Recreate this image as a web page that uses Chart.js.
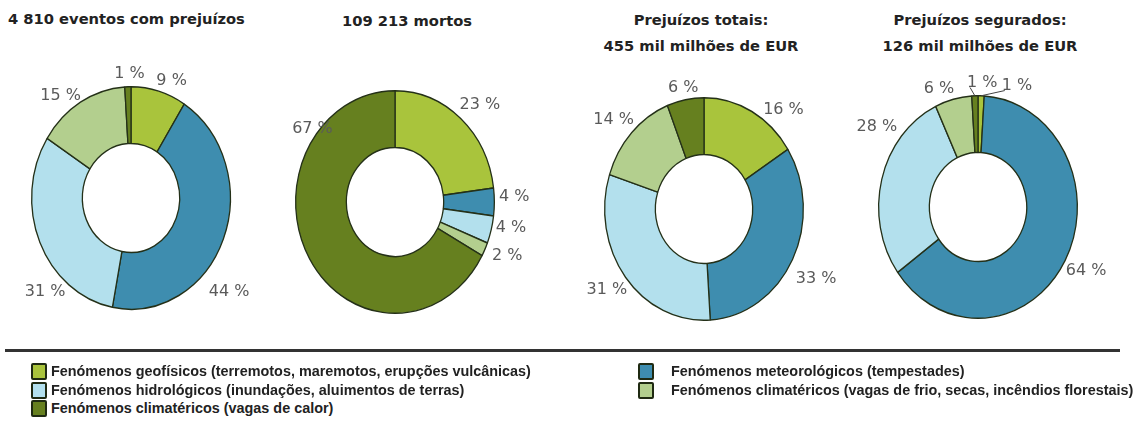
<!DOCTYPE html>
<html>
<head>
<meta charset="utf-8">
<script src="https://cdn.jsdelivr.net/npm/chart.js@4.4.0/dist/chart.umd.min.js"></script>
<style>
  body { margin: 0; width: 1142px; height: 421px; overflow: hidden; background: #fff; position: relative; font-family: "DejaVu Sans", Verdana, sans-serif; }
  .box { position: absolute; width: 320px; height: 340px; }
  .title { position: absolute; font-weight: bold; font-size: 14.7px; color: #222; line-height: 26px; white-space: nowrap; }
  .rule { position: absolute; left: 5px; width: 1115px; top: 349px; height: 3px; background: #333; }
  .leg { position: absolute; font-family: "Liberation Sans", Arial, sans-serif; font-weight: bold; font-size: 14.4px; color: #222; white-space: nowrap; line-height: 16px; }
  .leg i { position: absolute; width: 12px; height: 13px; border: 2px solid #1f2a12; border-radius: 2px; }
</style>
</head>
<body>
<div class="title" style="left:8px; top:6px;">4 810 eventos com prejuízos</div>
<div class="title" style="left:307px; width:200px; text-align:center; top:8px;">109 213 mortos</div>
<div class="title" style="left:601px; width:200px; text-align:center; top:7px;">Prejuízos totais:<br>455 mil milhões de EUR</div>
<div class="title" style="left:880px; width:200px; text-align:center; top:7px;">Prejuízos segurados:<br>126 mil milhões de EUR</div>

<div class="box" id="b1"><canvas id="c1" width="320" height="340"></canvas></div>
<div class="box" id="b2"><canvas id="c2" width="320" height="340"></canvas></div>
<div class="box" id="b3"><canvas id="c3" width="320" height="340"></canvas></div>
<div class="box" id="b4"><canvas id="c4" width="320" height="340"></canvas></div>

<div class="rule"></div>
<div id="legend"></div>

<script>
var categories = [
  "Fenómenos geofísicos (terremotos, maremotos, erupções vulcânicas)",
  "Fenómenos meteorológicos (tempestades)",
  "Fenómenos hidrológicos (inundações, aluimentos de terras)",
  "Fenómenos climatéricos (vagas de frio, secas, incêndios florestais)",
  "Fenómenos climatéricos (vagas de calor)"
];
var eventos = [9, 44, 31, 15, 1];
var mortos = [23, 4, 4, 2, 67];
var prejTotais = [16, 33, 31, 14, 6];
var prejSegurados = [1, 64, 28, 6, 1];

var colors = ['#a9c43c', '#3e8daf', '#b3e0ed', '#b3cf8e', '#66801f'];
var stretchY = 1.12;

// label placement: angle nudge (deg) and distance (x radius) per slice
var charts = [
  { id: 'c1', box: 'b1', cx: 131, cy: 198, data: eventos,
    nudge: [5, 19, -21, -7, 1], dist: [1.13, 1.30, 1.21, 1.16, 1.12] },
  { id: 'c2', box: 'b2', cx: 395, cy: 202, data: mortos,
    nudge: [3, -2, -3, -2, 69], dist: [1.22, 1.2, 1.19, 1.23, 1.06] },
  { id: 'c3', box: 'b3', cx: 704, cy: 209, data: prejTotais,
    nudge: [13, 2, 1, -2, 0], dist: [1.2, 1.29, 1.22, 1.21, 1.11] },
  { id: 'c4', box: 'b4', cx: 978, cy: 207, data: prejSegurados,
    nudge: [18, -1, 21, -6, 4], dist: [1.16, 1.23, 1.25, 1.13, 1.12], leaders: [0, 4] }
];

var ellipse = {
  id: 'ellipse',
  beforeDatasetsDraw: function(chart) {
    var a = chart.getDatasetMeta(0).data[0];
    var ctx = chart.ctx;
    ctx.save();
    ctx.translate(a.x, a.y);
    ctx.scale(1, stretchY);
    ctx.translate(-a.x, -a.y);
  },
  afterDatasetsDraw: function(chart) {
    chart.ctx.restore();
  }
};

var outLabels = {
  id: 'outLabels',
  afterDraw: function(chart, args, opts) {
    var ctx = chart.ctx;
    var values = chart.data.datasets[0].data;
    ctx.save();
    ctx.font = '16px "DejaVu Sans", Verdana, sans-serif';
    ctx.fillStyle = '#5a5a5a';
    ctx.textAlign = 'center';
    ctx.textBaseline = 'middle';
    chart.getDatasetMeta(0).data.forEach(function(arc, i) {
      var mid = (arc.startAngle + arc.endAngle) / 2;
      var ang = mid + opts.nudge[i] * Math.PI / 180;
      var r = arc.outerRadius * opts.dist[i];
      var x = arc.x + Math.cos(ang) * r;
      var y = arc.y + Math.sin(ang) * r * stretchY;
      var txt = values[i] + ' %';
      ctx.fillText(txt, x, y);
      if (opts.leaders && opts.leaders.indexOf(i) >= 0) {
        var w = ctx.measureText(txt).width;
        var ex = arc.x + Math.cos(mid) * arc.outerRadius;
        var ey = arc.y + Math.sin(mid) * arc.outerRadius * stretchY;
        ctx.beginPath();
        ctx.strokeStyle = '#444';
        ctx.lineWidth = 1;
        ctx.moveTo(ex, ey);
        ctx.lineTo(x - w / 2 + 3, y + 5);
        ctx.stroke();
      }
    });
    ctx.restore();
  }
};

charts.forEach(function(c) {
  var box = document.getElementById(c.box);
  box.style.left = (c.cx - 160) + 'px';
  box.style.top = (c.cy - 170) + 'px';
  new Chart(document.getElementById(c.id).getContext('2d'), {
    type: 'doughnut',
    data: {
      labels: categories,
      datasets: [{
        data: c.data,
        backgroundColor: colors,
        borderColor: '#243018',
        borderWidth: 1.3,
        borderAlign: 'center'
      }]
    },
    options: {
      responsive: false,
      animation: false,
      cutout: '49%',
      layout: { padding: { left: 60, right: 60, top: 70, bottom: 70 } },
      events: [],
      plugins: {
        legend: { display: false },
        tooltip: { enabled: false },
        outLabels: { nudge: c.nudge, dist: c.dist, leaders: c.leaders }
      }
    },
    plugins: [ellipse, outLabels]
  });
});

// shared legend below the rule
var legendPos = [
  { left: 31, top: 363 }, { left: 638, top: 363 },
  { left: 31, top: 382 }, { left: 638, top: 382 },
  { left: 31, top: 400 }
];
var textGap = [20, 33, 20, 33, 20];
var legend = document.getElementById('legend');
categories.forEach(function(name, i) {
  var d = document.createElement('div');
  d.className = 'leg';
  d.style.left = legendPos[i].left + 'px';
  d.style.top = legendPos[i].top + 'px';
  d.style.paddingLeft = textGap[i] + 'px';
  d.innerHTML = '<i style="left:0;top:0;background:' + colors[i] + '"></i>' + name;
  legend.appendChild(d);
});
</script>
</body>
</html>
